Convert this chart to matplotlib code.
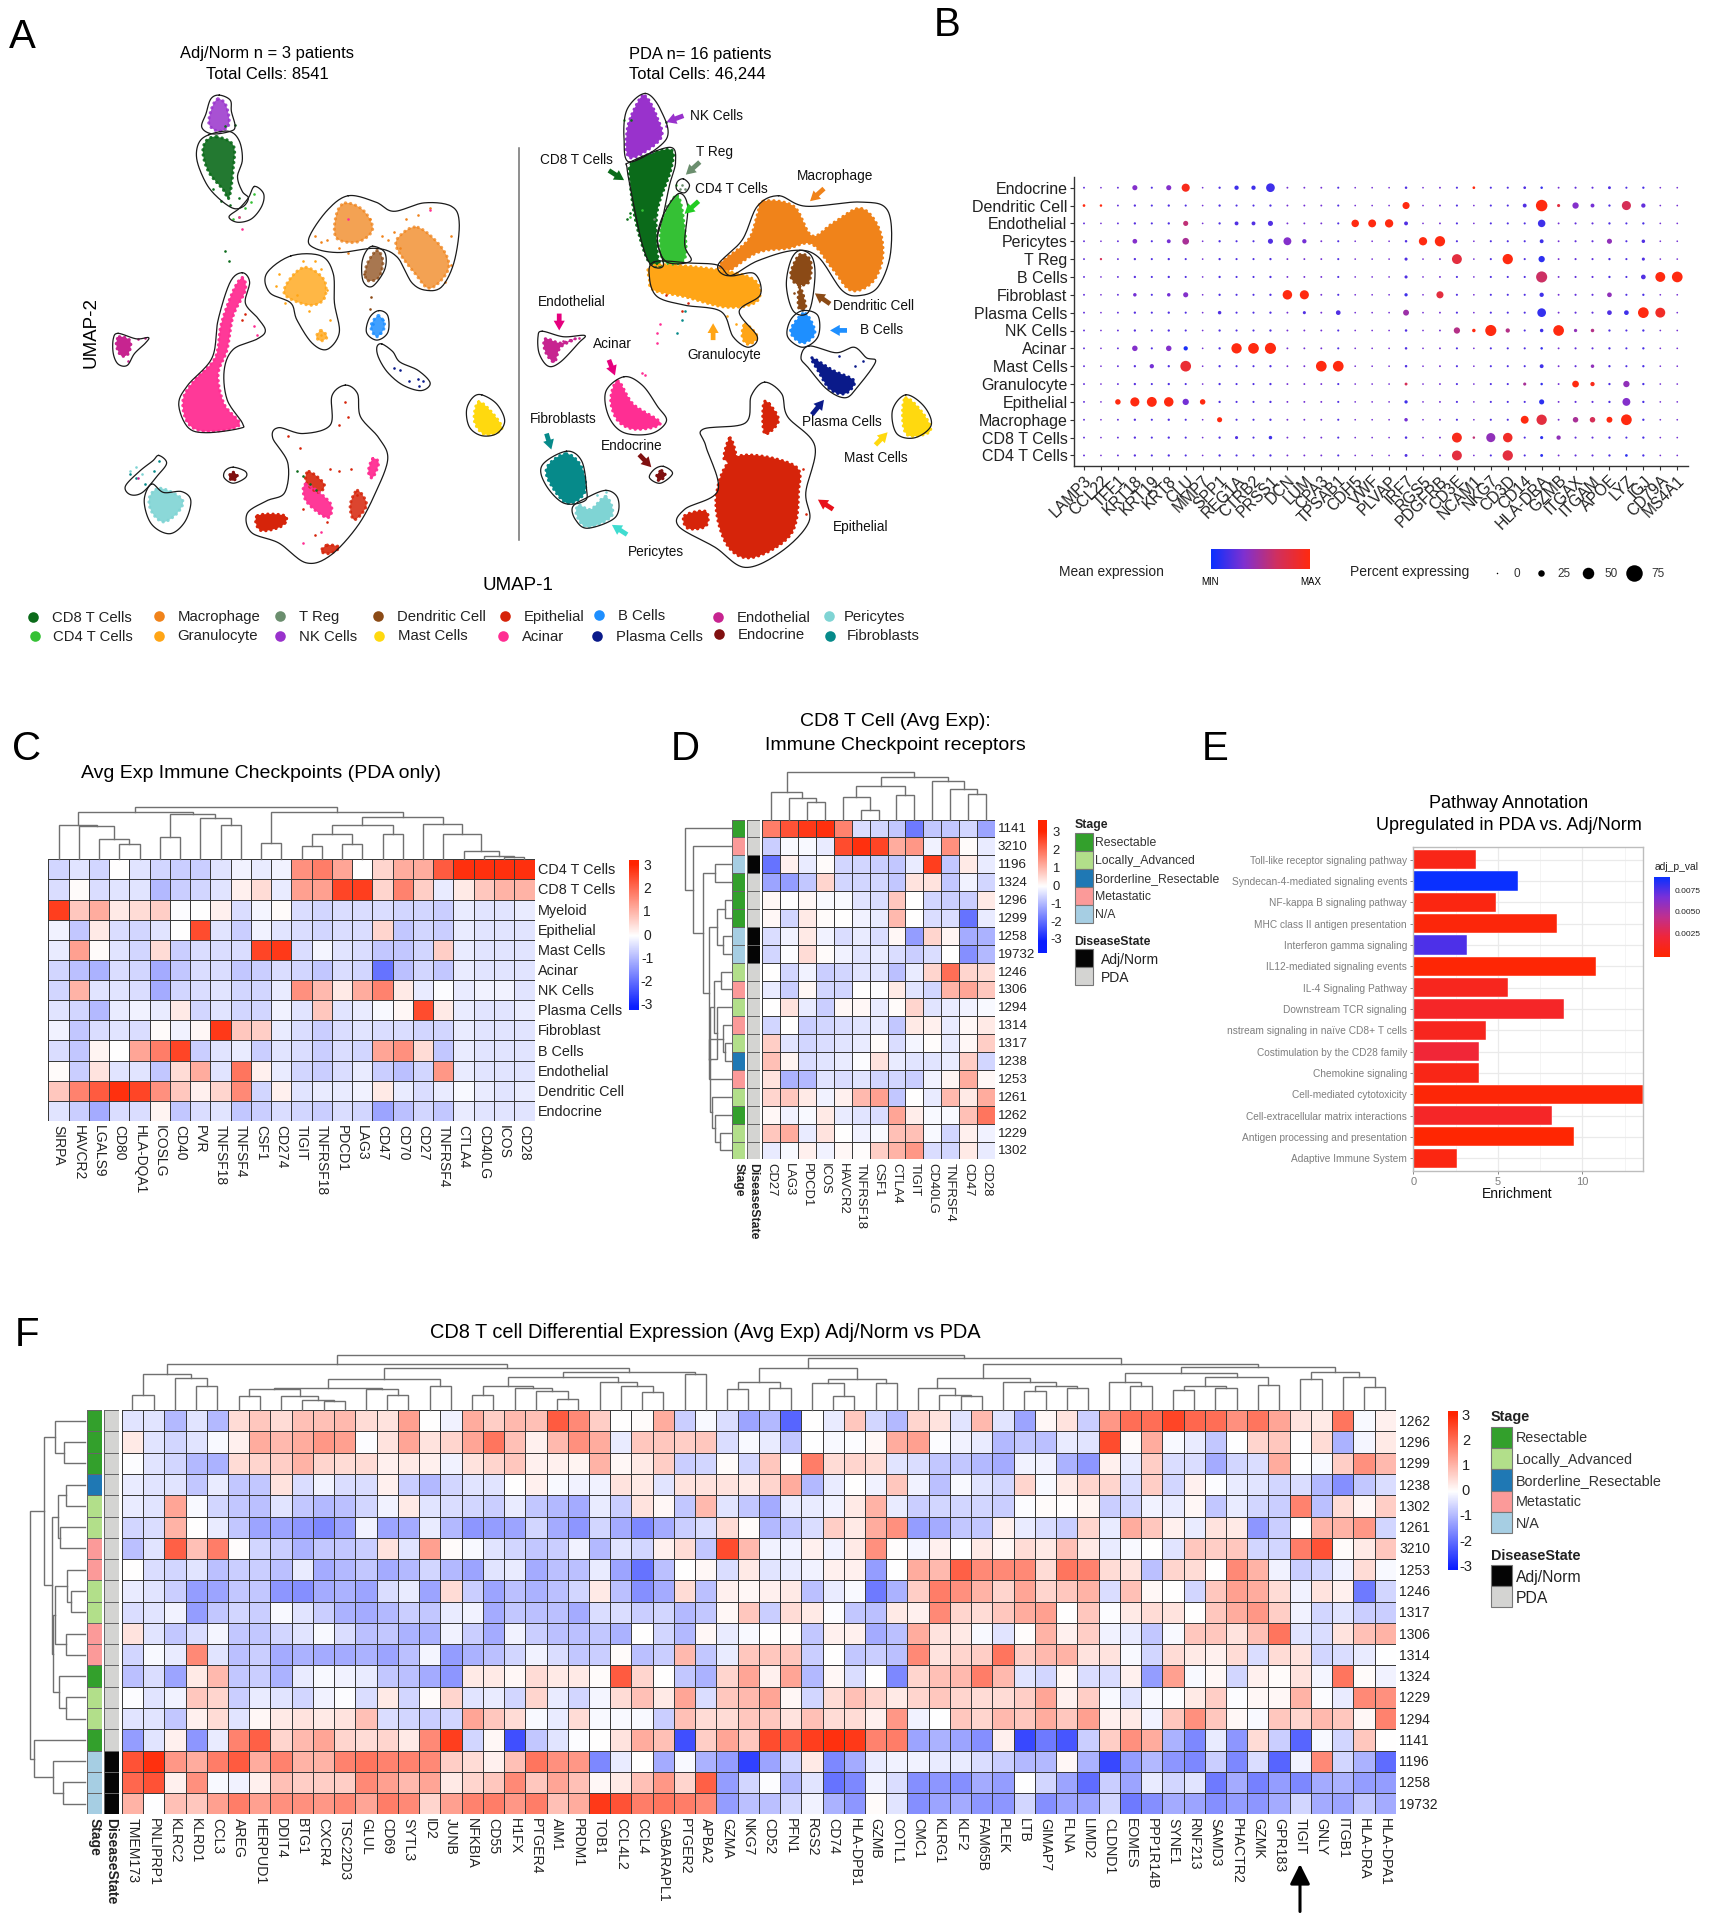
import numpy as np
import matplotlib
matplotlib.use('Agg')
import matplotlib.pyplot as plt
from matplotlib.colors import LinearSegmentedColormap, ListedColormap, Normalize
from matplotlib.patches import Polygon, Rectangle, FancyArrowPatch

plt.rcParams['font.family'] = ['Liberation Sans', 'DejaVu Sans']
W, H = 1709, 1920
fig = plt.figure(figsize=(17.09, 19.2), dpi=100)

def axpx(x0, y0, x1, y1):
    return fig.add_axes([x0 / W, 1 - y1 / H, (x1 - x0) / W, (y1 - y0) / H])

ov = axpx(0, 0, W, H)
ov.set_xlim(0, W); ov.set_ylim(H, 0); ov.axis('off'); ov.set_zorder(5); ov.patch.set_alpha(0)

# ---------- colours ----------
HM = LinearSegmentedColormap.from_list('hm', ['#0A1EFF', '#FFFFFF', '#FF2400'])
DOT = LinearSegmentedColormap.from_list('dot', ['#0A30FF', '#8030D0', '#D0305F', '#FF2A10'])
STAGE = ['#33A02C', '#B2DF8A', '#1F78B4', '#FB9A99', '#A6CEE3']
STAGE_NAMES = ['Resectable', 'Locally_Advanced', 'Borderline_Resectable', 'Metastatic', 'N/A']
DS_COL = ['#050505', '#D4D4D2']
DS_NAMES = ['Adj/Norm', 'PDA']
CL = dict(cd8='#0B6B1A', cd4='#35C135', mac='#F0831A', gran='#FFA516', treg='#6B8E6E', nk='#9932CC',
          dc='#8B4A16', mast='#FFD90F', epi='#D6240A', aci='#FF2E93', b='#1E8FFF', pla='#0A1A8A',
          endo='#C72490', ecr='#801010', per='#7FD4D4', fib='#068A8A')

# ---------- panel A data (UMAP position readings) ----------
outlines_left = [
 [(362,226),(380,238),(382,265),(388,300),(380,312),(350,318),(333,302),(340,270),(348,235)],
 [(345,320),(378,312),(395,335),(400,380),(392,420),(400,455),(410,470),(402,490),(385,495),(360,470),(340,435),(325,380),(328,340)],
 [(420,443),(435,460),(432,490),(415,520),(392,528),(378,515),(395,495),(410,470)],
 [(575,465),(620,480),(650,502),(700,482),(745,490),(758,530),(750,620),(730,680),(705,690),(680,672),(655,610),(620,590),(560,600),(520,590),(510,565),(540,500)],
 [(480,608),(530,608),(550,650),(552,720),(560,790),(540,830),(515,815),(490,760),(480,720),(445,695),(440,650)],
 [(615,585),(635,600),(635,640),(615,680),(600,670),(597,630),(603,600)],
 [(625,738),(640,750),(640,790),(622,808),(605,790),(610,755)],
 [(630,817),(648,835),(660,860),(690,880),(710,910),(695,928),(665,915),(640,885),(625,850),(622,825)],
 [(195,792),(225,805),(245,802),(240,815),(222,840),(210,868),(195,865),(187,840),(187,805)],
 [(400,648),(412,670),(405,720),(425,755),(438,785),(425,805),(385,830),(370,880),(375,950),(400,1005),(395,1018),(340,1028),(310,1015),(295,960),(310,915),(350,850),(360,760),(380,670)],
 [(795,938),(820,960),(833,1000),(820,1030),(795,1035),(775,1015),(770,975),(780,945)],
 [(385,1110),(405,1120),(405,1135),(385,1148),(370,1135),(372,1118)],
 [(262,1082),(275,1100),(260,1130),(235,1170),(215,1175),(207,1155),(230,1120),(252,1095)],
 [(250,1150),(270,1170),(300,1168),(315,1190),(305,1240),(280,1268),(250,1245),(238,1190)],
 [(570,915),(590,935),(595,990),(625,1040),(640,1090),(620,1170),(590,1250),(545,1320),(505,1337),(460,1290),(415,1265),(408,1220),(440,1190),(470,1170),(475,1100),(450,1040),(460,1016),(500,1030),(545,1010),(548,940)],
]
outlines_right = [
 [(1065,222),(1090,260),(1100,330),(1040,385),(1030,330),(1035,260)],
 [(1040,385),(1105,350),(1115,385),(1105,440),(1095,510),(1085,570),(1095,630),(1075,630),(1060,580),(1045,480),(1035,400)],
 [(1128,425),(1138,440),(1130,458),(1117,450),(1118,432)],
 [(1120,460),(1135,490),(1130,580),(1140,620),(1100,622),(1085,570),(1095,510)],
 [(1285,465),(1330,490),(1420,480),(1465,500),(1470,600),(1450,680),(1420,702),(1390,690),(1350,610),(1310,595),(1250,620),(1205,655),(1185,630),(1225,570),(1250,490)],
 [(1080,622),(1140,625),(1185,630),(1205,655),(1245,650),(1255,700),(1220,740),(1250,800),(1235,825),(1210,800),(1190,740),(1130,725),(1085,705),(1072,660)],
 [(1320,595),(1340,610),(1345,660),(1335,740),(1310,740),(1298,680),(1305,620)],
 [(1325,738),(1350,750),(1350,800),(1325,825),(1300,800),(1305,760)],
 [(1335,822),(1380,838),(1410,825),(1430,850),(1445,860),(1415,920),(1395,945),(1365,925),(1335,875),(1322,850)],
 [(895,787),(930,800),(965,797),(955,815),(925,860),(905,870),(890,840),(888,800)],
 [(1030,895),(1060,915),(1085,965),(1100,1000),(1075,1030),(1030,1028),(1005,990),(1000,930)],
 [(935,1072),(960,1095),(968,1160),(965,1190),(930,1195),(900,1150),(895,1105)],
 [(1000,1165),(1020,1185),(1015,1230),(970,1255),(950,1235),(945,1205),(965,1185)],
 [(1095,1108),(1110,1125),(1090,1148),(1072,1135),(1080,1115)],
 [(1495,938),(1525,965),(1537,1010),(1510,1040),(1480,1030),(1473,975)],
 [(1262,908),(1290,935),(1300,990),(1345,1060),(1330,1170),(1335,1240),(1290,1310),(1230,1348),(1180,1300),(1120,1250),(1130,1210),(1185,1165),(1165,1060),(1160,1020),(1230,1005),(1240,940)],
]
blobs = [
 ('nk',[(360,235),(373,250),(378,295),(362,312),(345,295),(350,255)],.85),
 ('cd8',[(358,325),(385,345),(385,400),(378,470),(368,450),(345,410),(335,365),(340,335)],.9),
 ('mac',[(570,482),(600,500),(615,545),(590,575),(555,565),(555,510)],.75),
 ('mac',[(690,540),(730,590),(740,640),(710,685),(685,650),(655,590),(660,560)],.75),
 ('gran',[(505,635),(535,665),(535,710),(510,725),(470,700),(480,660)],.8),
 ('gran',[(530,785),(540,800),(530,810),(522,800)],.8),
 ('dc',[(622,595),(632,620),(625,660),(605,665),(605,630)],.75),
 ('b',[(625,750),(635,775),(622,800),(612,775)],.85),
 ('aci',[(400,660),(405,690),(385,750),(375,830),(360,890),(370,960),(395,1010),(340,1025),(310,1005),(302,950),(320,905),(355,850),(365,770),(385,690)],.95),
 ('mast',[(790,955),(815,985),(828,1020),(800,1032),(783,1000)],1),
 ('ecr',[(385,1122),(392,1132),(384,1142),(378,1132)],1),
 ('endo',[(197,800),(215,810),(212,840),(200,845),(192,820)],1),
 ('per',[(265,1160),(300,1185),(295,1215),(270,1240),(250,1215),(247,1180)],.9),
 ('epi',[(425,1225),(470,1225),(465,1250),(430,1260)],1),
 ('epi',[(590,1165),(605,1200),(585,1235),(578,1200)],.85),
 ('epi',[(540,1295),(560,1300),(545,1315),(530,1310)],.9),
 ('epi',[(510,1120),(535,1150),(525,1170),(505,1145)],.9),
 ('aci',[(505,1150),(545,1195),(540,1230),(505,1190)],.95),
 ('aci',[(615,1090),(625,1100),(615,1135),(608,1120)],.95),
 ('nk',[(1065,228),(1085,280),(1090,330),(1040,375),(1035,310),(1050,250)],1),
 ('cd8',[(1045,385),(1105,355),(1108,400),(1085,500),(1085,600),(1090,632),(1070,620),(1050,530),(1040,430)],1),
 ('cd4',[(1118,465),(1128,520),(1130,615),(1095,620),(1090,550),(1100,500)],1),
 ('mac',[(1260,478),(1310,490),(1340,560),(1375,530),(1420,495),(1450,540),(1457,610),(1440,670),(1405,690),(1375,640),(1340,580),(1300,590),(1250,600),(1200,645),(1190,625),(1235,570),(1250,510)],1),
 ('gran',[(1080,630),(1180,640),(1245,665),(1250,715),(1200,730),(1130,705),(1080,690),(1072,665)],1),
 ('gran',[(1230,770),(1250,800),(1235,818),(1225,800)],1),
 ('dc',[(1320,605),(1338,620),(1335,670),(1315,675),(1305,650)],1),
 ('dc',[(1320,680),(1330,730),(1318,730)],1),
 ('b',[(1330,745),(1345,790),(1325,815),(1305,790),(1315,760)],1),
 ('pla',[(1340,850),(1375,880),(1410,905),(1395,935),(1370,925),(1350,880)],1),
 ('endo',[(900,805),(925,815),(950,805),(925,825),(915,860),(900,835)],1),
 ('aci',[(1020,905),(1045,960),(1090,1005),(1050,1020),(1020,1000),(1008,950)],1),
 ('fib',[(935,1078),(960,1110),(965,1170),(935,1195),(905,1140),(905,1105)],1),
 ('per',[(1000,1180),(1010,1225),(970,1252),(952,1225),(955,1200),(975,1210)],1),
 ('ecr',[(1092,1118),(1098,1130),(1088,1142),(1084,1130)],1),
 ('mast',[(1495,945),(1525,985),(1535,1025),(1500,1035),(1490,1000)],1),
 ('epi',[(1270,960),(1285,1000),(1262,1030),(1260,960)],1),
 ('epi',[(1215,1085),(1310,1105),(1318,1170),(1305,1270),(1240,1325),(1198,1290),(1182,1180)],1),
 ('epi',[(1130,1225),(1165,1215),(1165,1250),(1135,1255)],1),
 ('epi',[(1205,1040),(1215,1090),(1195,1090)],1),
]
specks = {
 'cd8':[(372,300),(388,298),(395,470),(380,488),(365,478),(352,450),(372,597),(378,620),(1035,520),(1040,505),(1048,495),(1042,285),(1100,290),(490,1118),(500,1130),(512,1150),(522,1165)],
 'cd4':[(420,460),(415,480),(405,495),(395,515),(385,520),(1060,500),(1040,515),(1115,440),(1030,285)],
 'treg':[(1125,440),(1122,450),(1130,448),(1110,470),(1100,490),(1080,520)],
 'mac':[(540,570),(530,575),(610,520),(630,560),(650,550),(670,520),(690,510),(710,495),(660,590),(640,570),(520,560),(560,590),(575,600),(745,560),(745,630),(735,670)],
 'gran':[(455,680),(460,650),(500,620),(520,620),(530,640),(490,700),(540,690),(470,720),(510,740),(530,795),(545,760),(1200,750),(1215,770),(1190,645)],
 'dc':[(610,735),(612,705),(600,650),(1320,715),(1325,700),(1310,695)],
 'b':[(615,770),(632,760),(628,790)],
 'pla':[(650,875),(660,880),(690,900),(698,905),(692,918),(675,905),(1385,845),(1425,858),(1412,870)],
 'epi':[(570,955),(575,990),(560,1010),(495,1065),(475,1035),(545,1115),(560,1120),(580,1115),(520,1270),(470,1240),(500,1210),(540,1240),(590,1175),(405,745),(400,760),(1135,720),(1125,740),(1100,700),(1290,1150),(1330,1220),(1325,1115)],
 'aci':[(400,545),(395,515),(425,795),(420,775),(575,520),(710,500),(500,1290),(530,1265),(1090,770),(1085,790),(1085,815),(1060,885),(1065,890)],
 'fib':[(262,1095),(255,1120),(240,1150),(225,1135),(215,1125),(1130,740),(1125,760),(1118,790)],
 'per':[(225,1110),(215,1120),(235,1125),(1000,1170),(985,1175)],
 'endo':[(228,805),(240,803),(212,858),(228,1135),(930,810),(955,802),(912,858)],
 'nk':[(1100,300),(1075,360)],
}
arrows = [
 (1128,275,1100,290,'#9932CC'),(1005,405,1030,428,CL['cd8']),(1155,385,1132,415,CL['treg']),
 (1153,478,1130,508,'#22CC22'),(1360,448,1337,478,CL['mac']),(1370,722,1345,697,CL['dc']),
 (1398,785,1370,785,CL['b']),(1177,808,1177,768,CL['gran']),(923,745,923,785,'#E6007E'),
 (1005,855,1015,892,'#E6007E'),(1340,985,1360,950,CL['pla']),(1445,1057,1465,1027,CL['mast']),
 (902,1030,910,1068,CL['fib']),(1055,1080,1075,1110,CL['ecr']),(1035,1270,1010,1247,'#40DCD0'),
 (1375,1210,1350,1187,'#E8101A'),
]
arrow_labels = [('NK Cells',1183,275),('CD8 T Cells',952,380),('T Reg',1180,360),('CD4 T Cells',1207,450),
 ('Macrophage',1378,417),('Dendritic Cell',1441,728),('B Cells',1455,783),('Granulocyte',1196,843),
 ('Endothelial',943,718),('Acinar',1010,818),('Plasma Cells',1390,1002),('Mast Cells',1445,1087),
 ('Fibroblasts',930,995),('Endocrine',1043,1060),('Pericytes',1082,1311),('Epithelial',1421,1253)]
legend_a = [('CD8 T Cells','cd8',55,1466,86),('CD4 T Cells','cd4',57,1512,88),('Macrophage','mac',262,1463,293),
 ('Granulocyte','gran',262,1510,292),('T Reg','treg',462,1463,493),('NK Cells','nk',462,1511,493),
 ('Dendritic Cell','dc',624,1464,655),('Mast Cells','mast',626,1510,657),('Epithelial','epi',833,1464,865),
 ('Acinar','aci',831,1511,862),('B Cells','b',989,1462,1020),('Plasma Cells','pla',985,1512,1016),
 ('Endothelial','endo',1185,1466,1216),('Endocrine','ecr',1186,1507,1217),('Pericytes','per',1368,1463,1393),
 ('Fibroblasts','fib',1370,1510,1397)]

def smooth(pts, n=14):
    p = np.array(pts, float); m = len(p); out = []
    for i in range(m):
        p0, p1, p2, p3 = p[i - 1], p[i], p[(i + 1) % m], p[(i + 2) % m]
        for t in np.linspace(0, 1, n, endpoint=False):
            out.append(0.5 * (2 * p1 + (p2 - p0) * t + (2 * p0 - 5 * p1 + 4 * p2 - p3) * t * t + (3 * p1 - p0 - 3 * p2 + p3) * t ** 3))
    return np.array(out)

axA = axpx(0, 0, 950, 660)
axA.set_xlim(0, 1568); axA.set_ylim(1568, 0); axA.axis('off')
for key, pts, al in blobs:
    poly = smooth(pts)
    axA.add_patch(Polygon(poly, closed=True, fc=CL[key], ec='none', alpha=al, zorder=2))
    closed = np.vstack([poly, poly[0]])
    axA.plot(closed[:, 0], closed[:, 1], color=CL[key], lw=2.2, ls=(0, (0.1, 1.6)),
             dash_capstyle='round', zorder=2.5, alpha=al)
for key, pts in specks.items():
    a = np.array(pts)
    axA.scatter(a[:, 0], a[:, 1], s=3.5, c=CL[key], lw=0, zorder=3)
for o in outlines_left + outlines_right:
    s = smooth(o); s = np.vstack([s, s[0]])
    axA.plot(s[:, 0], s[:, 1], color='#1a1a1a', lw=0.9, zorder=4)
axA.plot([856, 856], [352, 1284], color='#707070', lw=1.1)
for x0, y0, x1, y1, c in arrows:
    axA.add_patch(FancyArrowPatch((x0, y0), (x1, y1), arrowstyle='simple,head_width=8,head_length=7,tail_width=3.4',
                                  color=c, lw=0, zorder=6, shrinkA=0, shrinkB=0))
for t, x, y in arrow_labels:
    axA.text(x, y, t, ha='center', va='center', fontsize=9.8, color='#111')
axA.text(441, 128, 'Adj/Norm n = 3 patients', ha='center', va='center', fontsize=11.9)
axA.text(441, 176, 'Total Cells: 8541', ha='center', va='center', fontsize=11.9)
axA.text(1155, 130, 'PDA n= 16 patients', ha='center', va='center', fontsize=11.9)
axA.text(1151, 177, 'Total Cells: 46,244', ha='center', va='center', fontsize=11.9)
axA.text(855, 1390, 'UMAP-1', ha='center', va='center', fontsize=13.5)
axA.text(150, 790, 'UMAP-2', ha='center', va='center', fontsize=13.5, rotation=90)
for t, k, dx, dy, tx in legend_a:
    axA.scatter([dx], [dy], s=58, c=CL[k], lw=0)
    axA.text(tx, dy + 2, t, ha='left', va='center', fontsize=10.7, color='#222')

# ---------- panel B ----------
b_rows = ['Endocrine','Dendritic Cell','Endothelial','Pericytes','T Reg','B Cells','Fibroblast','Plasma Cells','NK Cells',
          'Acinar','Mast Cells','Granulocyte','Epithelial','Macrophage','CD8 T Cells','CD4 T Cells']
b_genes = ['LAMP3','CCL22','TFF1','KRT18','KRT19','KRT8','CLU','MMP7','SPP1','REG1A','CTRB2','PRSS1','DCN','LUM','CPA3','TPSAB1',
           'CDH5','VWF','PLVAP','IRF7','RGS5','PDGFRB','CD3E','NCAM1','NKG7','CD3D','CD14','HLA-DRA','GZMB','ITGAX','ITGAM','APOE','LYZ','IGJ','CD79A','MS4A1']
b_bg_pct = [2,1,2,4,3,4,3,1,4,3,3,4,2,2,2,3,1,1,1,5,1,2,3,1,3,3,3,5,2,3,3,4,3,4,1,1]
b_bg_expr = [.25,.3,.25,.22,.2,.2,.2,.3,.2,.2,.2,.2,.3,.3,.3,.2,.3,.3,.3,.2,.3,.3,.2,.3,.2,.2,.2,.12,.3,.25,.25,.2,.2,.18,.3,.3]
b_dots = [
 ('Endocrine','KRT18',18,.35),('Endocrine','KRT8',18,.35),('Endocrine','CLU',33,.95),('Endocrine','REG1A',14,.15),('Endocrine','CTRB2',14,.15),('Endocrine','PRSS1',36,.15),('Endocrine','NCAM1',6,1.0),('Endocrine','CD14',6,.2),('Endocrine','APOE',7,.2),
 ('Dendritic Cell','LAMP3',6,1),('Dendritic Cell','CCL22',5,1),('Dendritic Cell','IRF7',28,1),('Dendritic Cell','CD14',12,.2),('Dendritic Cell','HLA-DRA',50,1),('Dendritic Cell','GZMB',8,.8),('Dendritic Cell','ITGAX',24,.35),('Dendritic Cell','ITGAM',12,.3),('Dendritic Cell','LYZ',38,.7),('Dendritic Cell','IGJ',14,.25),
 ('Endothelial','CLU',18,.6),('Endothelial','REG1A',12,.2),('Endothelial','CTRB2',12,.2),('Endothelial','PRSS1',18,.2),('Endothelial','CDH5',30,1),('Endothelial','VWF',32,1),('Endothelial','PLVAP',34,1),('Endothelial','IRF7',12,.2),('Endothelial','HLA-DRA',30,.15),
 ('Pericytes','KRT18',16,.35),('Pericytes','KRT8',12,.3),('Pericytes','CLU',26,.5),('Pericytes','PRSS1',18,.2),('Pericytes','DCN',32,.35),('Pericytes','LUM',14,.3),('Pericytes','RGS5',34,1),('Pericytes','PDGFRB',44,1),('Pericytes','HLA-DRA',12,.15),('Pericytes','APOE',18,.4),('Pericytes','IGJ',10,.2),
 ('T Reg','CCL22',4,.7),('T Reg','CD3E',42,.8),('T Reg','CD3D',44,1),('T Reg','HLA-DRA',24,.1),('T Reg','IRF7',8,.2),('T Reg','IGJ',8,.2),
 ('B Cells','HLA-DRA',48,.65),('B Cells','IGJ',16,.2),('B Cells','CD79A',42,1),('B Cells','MS4A1',46,1),('B Cells','IRF7',8,.2),
 ('Fibroblast','DCN',40,1),('Fibroblast','LUM',38,1),('Fibroblast','PDGFRB',28,.8),('Fibroblast','CLU',18,.35),('Fibroblast','KRT18',10,.3),('Fibroblast','KRT8',10,.3),('Fibroblast','HLA-DRA',14,.15),('Fibroblast','APOE',16,.4),('Fibroblast','IRF7',9,.15),
 ('Plasma Cells','IRF7',22,.45),('Plasma Cells','SPP1',10,.2),('Plasma Cells','TPSAB1',16,.2),('Plasma Cells','LUM',8,.2),('Plasma Cells','HLA-DRA',36,.12),('Plasma Cells','APOE',16,.2),('Plasma Cells','LYZ',16,.15),('Plasma Cells','IGJ',46,1),('Plasma Cells','CD79A',42,.9),
 ('NK Cells','CD3E',24,.55),('NK Cells','NCAM1',10,1),('NK Cells','NKG7',48,1),('NK Cells','CD3D',14,.55),('NK Cells','GZMB',46,1),('NK Cells','HLA-DRA',10,.15),('NK Cells','ITGAX',9,.4),('NK Cells','ITGAM',10,.55),
 ('Acinar','KRT18',20,.35),('Acinar','KRT8',20,.35),('Acinar','CLU',14,.05),('Acinar','REG1A',44,1),('Acinar','CTRB2',46,1),('Acinar','PRSS1',48,1),
 ('Mast Cells','KRT19',14,.3),('Mast Cells','CLU',46,.85),('Mast Cells','CPA3',46,1),('Mast Cells','TPSAB1',46,1),('Mast Cells','HLA-DRA',12,.15),('Mast Cells','ITGAM',10,.4),
 ('Granulocyte','ITGAX',26,1),('Granulocyte','ITGAM',14,.95),('Granulocyte','LYZ',24,.4),('Granulocyte','CD14',8,.5),('Granulocyte','IRF7',7,.7),
 ('Epithelial','TFF1',20,1),('Epithelial','KRT18',38,1),('Epithelial','KRT19',42,1),('Epithelial','KRT8',40,1),('Epithelial','CLU',24,.3),('Epithelial','MMP7',20,1),('Epithelial','HLA-DRA',18,.1),('Epithelial','LYZ',32,.35),('Epithelial','IRF7',9,.15),
 ('Macrophage','SPP1',18,1),('Macrophage','CD14',32,1),('Macrophage','HLA-DRA',44,.8),('Macrophage','ITGAX',20,.5),('Macrophage','ITGAM',20,.7),('Macrophage','APOE',22,1),('Macrophage','LYZ',46,1),('Macrophage','IRF7',10,.3),
 ('CD8 T Cells','CD3E',42,.95),('CD8 T Cells','NCAM1',5,.6),('CD8 T Cells','NKG7',38,.4),('CD8 T Cells','CD3D',40,.9),('CD8 T Cells','GZMB',14,.4),('CD8 T Cells','HLA-DRA',8,.1),('CD8 T Cells','PRSS1',10,.15),('CD8 T Cells','REG1A',8,.2),
 ('CD4 T Cells','CD3E',42,.8),('CD4 T Cells','CD3D',44,.8),('CD4 T Cells','HLA-DRA',7,.1),('CD4 T Cells','IRF7',7,.2),('CD4 T Cells','LYZ',6,.1),
]
def dot_area(p):
    return ((1.5 + 0.2 * np.asarray(p, float)) * 0.72) ** 2
pct = np.tile(np.array(b_bg_pct, float), (16, 1)); ex = np.tile(np.array(b_bg_expr, float), (16, 1))
for r, g, p, e in b_dots:
    pct[b_rows.index(r), b_genes.index(g)] = p; ex[b_rows.index(r), b_genes.index(g)] = e
axB = axpx(1074.4, 177, 1688, 466)
axB.set_xlim((1074.4 - 1084) / 16.95, (1688 - 1084) / 16.95)
axB.set_ylim((466 - 187.7) / 17.85, (177 - 187.7) / 17.85)
xx, yy = np.meshgrid(np.arange(36), np.arange(16))
axB.scatter(xx.ravel(), yy.ravel(), s=dot_area(pct.ravel()), c=ex.ravel(), cmap=DOT, vmin=0, vmax=1, lw=0, zorder=3)
axB.spines[['top', 'right']].set_visible(False)
for s in ['left', 'bottom']:
    axB.spines[s].set_color('#333'); axB.spines[s].set_linewidth(1)
axB.set_xticks(range(36)); axB.set_xticklabels(b_genes, rotation=45, ha='right', va='top', rotation_mode='anchor', fontsize=11.3, color='#222')
axB.set_yticks(range(16)); axB.set_yticklabels(b_rows, fontsize=11.5, color='#222')
axB.tick_params(length=3, width=0.8, pad=2, color='#333')
gb = axpx(1211, 549, 1309.6, 569)
gb.imshow(np.linspace(0, 1, 200)[None, :], aspect='auto', cmap=DOT); gb.axis('off')
ov.text(1059, 572, 'Mean expression', fontsize=9.9, va='center', color='#222')
ov.text(1210, 582, 'MIN', fontsize=7, ha='center', va='center')
ov.text(1311, 582, 'MAX', fontsize=7, ha='center', va='center')
ov.text(1350, 572, 'Percent expressing', fontsize=10, va='center', color='#222')
b_size_vals = [0, 25, 50, 75]
for i, v in enumerate(b_size_vals):
    x = [1496.5, 1541, 1587.5, 1634][i]
    ov.scatter([x], [573], s=dot_area(v), c='k', lw=0)
    ov.text([1517, 1564, 1610.7, 1657.6][i], 574, str(v), fontsize=8.5, ha='center', va='center', color='#333')

# ---------- heat map helpers ----------
def heat(box, mat, vlim=3.2):
    ax = axpx(*box)
    ax.pcolormesh(np.array(mat, float), cmap=HM, vmin=-vlim, vmax=vlim, edgecolors='#3a3a3a', linewidth=0.7)
    ax.set_ylim(len(mat), 0); ax.axis('off')
    return ax

def annot(box, idx, cols):
    ax = axpx(*box)
    ax.pcolormesh(np.array(idx)[:, None], cmap=ListedColormap(cols), vmin=0, vmax=len(cols), edgecolors='#666666', linewidth=0.6)
    ax.set_ylim(len(idx), 0); ax.axis('off')

def colorbar(box, lo, hi, ticks_x, fs=10):
    ax = axpx(*box)
    vals = np.linspace(hi, lo, 200)[:, None]
    ax.imshow(vals, aspect='auto', cmap=HM, vmin=-3.1, vmax=3.1, extent=[0, 1, lo, hi]); ax.axis('off')
    y0, y1 = box[1], box[3]
    for v in range(-3, 4):
        ov.text(ticks_x, y0 + (hi - v) / (hi - lo) * (y1 - y0), str(v), fontsize=fs, ha='center', va='center', color='#222')

def dendro(tree, leafpos, h2px, base, orient, lw=1.0, col='#707070'):
    def rec(n):
        if not isinstance(n, tuple):
            return leafpos(n), base
        top, l, r = n
        c1, b1 = rec(l); c2, b2 = rec(r); t = h2px(top)
        xs, ys = [c1, c1, c2, c2], [b1, t, t, b2]
        if orient == 'top':
            ov.plot(xs, ys, color=col, lw=lw, solid_joinstyle='miter')
        else:
            ov.plot(ys, xs, color=col, lw=lw, solid_joinstyle='miter')
        return (c1 + c2) / 2, t
    rec(tree)

def legends(x, y_stage_t, sw_x1, y0, step, lab_x, fs, y_ds_t, y1, dstep, lab_ds_x, fs_ds, tfs):
    ov.text(x, y_stage_t, 'Stage', fontweight='bold', fontsize=tfs, va='center', color='#222')
    for i, (c, n) in enumerate(zip(STAGE, STAGE_NAMES)):
        ov.add_patch(Rectangle((x, y0 + i * step), sw_x1 - x, step, fc=c, ec='#777', lw=0.8))
        ov.text(lab_x, y0 + (i + .5) * step + 1, n, fontsize=fs, va='center', color='#333')
    ov.text(x, y_ds_t, 'DiseaseState', fontweight='bold', fontsize=tfs, va='center', color='#222')
    for i, (c, n) in enumerate(zip(DS_COL, DS_NAMES)):
        ov.add_patch(Rectangle((x, y1 + i * dstep), sw_x1 - x, dstep, fc=c, ec='#777', lw=0.8))
        ov.text(lab_ds_x, y1 + (i + .5) * dstep + 2, n, fontsize=fs_ds, va='center', color='#222')

# ---------- panel C ----------
c_cols = ['SIRPA','HAVCR2','LGALS9','CD80','HLA-DQA1','ICOSLG','CD40','PVR','TNFSF18','TNFSF4','CSF1','CD274','TIGIT','TNFRSF18','PDCD1','LAG3','CD47','CD70','CD27','TNFRSF4','CTLA4','CD40LG','ICOS','CD28']
c_rows = ['CD4 T Cells','CD8 T Cells','Myeloid','Epithelial','Mast Cells','Acinar','NK Cells','Plasma Cells','Fibroblast','B Cells','Endothelial','Dendritic Cell','Endocrine']
c_vals = [
 [-.6,-.4,-.6,0,-.4,-.6,-.7,-.7,-.4,-.2,-.3,-.2,1.6,1.9,1.3,0,.6,1.2,1.2,2.4,3,3,3,3],
 [-.5,.05,-.5,-.4,-.4,-1,-.7,-.6,-.4,.2,.5,-.3,1.4,1.4,2.7,2.8,.6,1.8,.7,-.3,.3,.8,1.1,1.1],
 [2.8,.8,1.2,.3,.5,.7,-.05,0,.2,-.5,-.15,.05,-.5,-.6,-.5,-.5,-.5,-.6,-.6,-.7,-.3,-.4,-.4,-.3],
 [-.2,-.8,.3,-.5,-.6,-.4,0,2.6,-.4,-.7,-.2,-.4,-.5,-.6,-.5,-.5,.6,-.8,-.6,-.7,-.3,-.4,-.4,-.4],
 [-.3,1.4,.05,-.4,-.6,.5,-.7,-.5,-.5,-.5,2.7,2.9,-.5,-.15,-.4,-.5,-.8,-.8,-.6,.7,-.3,-.4,-.4,-.4],
 [-.6,-.9,-1.1,-.5,-.6,-1.2,-.8,-.5,-.5,-.8,-.7,-.5,-.6,-.8,-.5,-.6,-2,-.9,-.6,-.8,-.3,-.4,-.4,-.4],
 [-.6,1.1,-.4,-.4,-.5,-1.2,-.6,-.5,-.4,-.6,-.6,-.3,1.6,1,.3,1.2,1.8,.3,-.3,-.05,-.3,-.2,-.2,-.4],
 [-.4,-.6,-1,-.3,-.2,-.3,.3,-.6,-.4,-.6,-.6,-.2,-.4,.8,-.4,-.3,-.1,.1,2.6,.3,-.3,-.4,-.4,-.3],
 [-.2,-.8,-.5,-.4,-.5,.05,-.2,.1,2.9,.8,.7,-.3,-.5,-.7,-.5,-.4,-.5,-.5,-.6,-.6,-.3,-.4,-.4,-.4],
 [-.5,-.8,.15,0,1.3,1.9,2.7,-.7,-.4,-.3,-.7,-.4,-.5,-.7,-.5,-.6,1.3,1.6,.5,-.8,-.3,-.4,-.4,-.4],
 [.05,-.7,.4,-.4,-.4,-.8,.5,1.2,-.4,2,.2,-.3,-.6,-.7,-.5,-.3,-.7,-.9,-.6,1.5,-.3,-.4,-.4,-.4],
 [.8,1.8,2.4,3,2.7,1.6,.8,.2,.6,1.7,-.6,.2,-.4,-.3,-.3,-.2,.3,-.3,-.5,-.3,-.1,-.3,-.4,-.3],
 [-.4,-.7,-1.2,-.5,-.5,.15,-.8,-.5,-.4,-.8,-.7,-.5,-.6,-.7,-.5,-.6,-1.3,-.9,-.6,-.8,-.3,-.4,-.4,-.4],
]
c_tree = (260, (277, (316, 0, (318, 1, (358, 2, (372, 3, 4)))), (283, (350, 5, 6), (294, 7, (316, 8, 9)))),
          (275, (370, 10, 11), (290, (316, (342, (377, 12, 13), (372, 14, 15)), (342, 16, 17)),
                                (313, 18, (342, 19, (392, 20, (407, 21, (412, 22, 23))))))))
C = (48.4, 859.3, 534.5, 1121)
heat(C, c_vals)
cw = (C[2] - C[0]) / 24; ch = (C[3] - C[1]) / 13
dendro(c_tree, lambda i: C[0] + cw * (i + .5), lambda h: 720 + h / 3, C[1], 'top')
for i, t in enumerate(c_rows):
    ov.text(537.5, C[1] + ch * (i + .5) + 1, t, fontsize=10.4, va='center', color='#222')
for i, t in enumerate(c_cols):
    ov.text(C[0] + cw * (i + .5), 1125, t, fontsize=10, rotation=270, ha='center', va='top', color='#222')
colorbar((629, 860, 639, 1010), -3.2, 3.26, 647, 10)
ov.text(261, 774, 'Avg Exp Immune Checkpoints (PDA only)', fontsize=14, ha='center', va='center')

# ---------- panel D ----------
d_cols = ['CD27','LAG3','PDCD1','ICOS','HAVCR2','TNFRSF18','CSF1','CTLA4','TIGIT','CD40LG','TNFRSF4','CD47','CD28']
d_rows = ['1141','3210','1196','1324','1296','1299','1258','19732','1246','1306','1294','1314','1317','1238','1253','1261','1262','1229','1302']
d_stage = [0,3,4,0,0,0,4,4,1,3,1,3,1,2,3,1,0,1,1]
d_state = [1,1,0,1,1,1,0,0,1,1,1,1,1,1,1,1,1,1,1]
d_vals = [
 [1.9,2.5,2.9,3,1.8,-.5,-.6,-.8,-1.9,-.8,-.8,-.6,-1.3],
 [-.7,-.1,-.1,-.3,2.6,3,2.7,1.2,1.5,-.2,1.6,.05,-.3],
 [-2,.2,-.3,.05,-.6,-.6,-.7,-.8,-.3,2.8,-.8,.3,-.3],
 [-1.3,-1.4,-.8,.6,-.6,-.6,-.6,-.8,.4,.4,-.8,-.2,-.6],
 [.1,0,.1,-.1,-.1,-.4,-.5,.8,0,-.6,-.7,-.7,.3],
 [.1,-.6,.3,.05,0,-.2,-.3,1,0,-.5,-.5,-2,-.3],
 [-.5,-.2,.3,-.2,-.5,-.3,-.5,.1,-1.4,.6,.15,-1.2,-1.1],
 [-.6,-.05,.5,.05,-.2,-.4,-.3,-.5,-.7,-.5,0,-1.6,-1],
 [0,-.6,-.2,-.7,-.6,-.4,-.4,-.9,-.3,.6,2.1,.6,.5],
 [-.3,-.7,.1,-.6,-.6,0,-.05,.3,-.4,-.6,1.1,1.3,.8],
 [0,.4,-.3,-.7,.1,.1,-.3,.05,.6,-.4,-.3,-.2,-.1],
 [-.6,0,-.7,-.6,-.5,-.4,-.3,-.8,.3,.2,-.3,.1,.3],
 [.7,-.4,-.6,-.5,-.4,-.3,.05,-.5,-.15,.03,-.3,.1,.7],
 [.9,.15,-.5,-.4,-.3,-.05,.4,-.3,-.4,-.4,-.3,.7,-.6],
 [.4,-1.1,-1,-.4,-.5,-.4,-.6,-.6,-.7,-.2,.15,1.2,.1],
 [.6,.8,.3,-.2,.2,1,1.4,-.8,.02,-.3,1,.3,1.2],
 [.1,-.2,-.1,.3,-.3,-.4,-.5,1.3,.25,-.1,-.1,.9,2],
 [.8,1.2,-.3,.4,0,-.2,-.1,.9,.9,-.1,-.6,.2,-.2],
 [-.3,-.1,.2,-.2,.1,.03,.7,1.1,1.5,-.5,-.6,.3,-.3],
]
d_ctree = (180, (238, 0, (255, 1, (268, 2, 3))),
           (195, (222, (253, 4, (290, 5, 6)), (248, 7, 8)), (207, 9, (228, 10, (245, 11, 12)))))
d_rtree = (65, 0, (85, 1, (112, (143, 2, 3),
           (127, (150, (170, 4, 5), (165, 6, 7)),
            (130, (142, (160, 8, 9), (150, 10, (128, (165, 11, (170, 12, 13)), 14))),
             (135, 15, (143, 16, (157, 17, 18))))))))
D = (762.2, 819.5, 994.9, 1159.4)
heat(D, d_vals)
dw = (D[2] - D[0]) / 13; dh = (D[3] - D[1]) / 19
annot((732.3, D[1], 744.6, D[3]), d_stage, STAGE)
annot((747.3, D[1], 759.5, D[3]), d_state, DS_COL)
dendro(d_ctree, lambda i: D[0] + dw * (i + .5), lambda h: 710 + h / 2.904, D[1], 'top')
dendro(d_rtree, lambda i: D[1] + dh * (i + .5), lambda h: 660 + h / 2.613, 730.5, 'left')
for i, t in enumerate(d_rows):
    ov.text(997.5, D[1] + dh * (i + .5) + 1, t, fontsize=9.6, va='center', color='#222')
for i, t in enumerate(d_cols):
    ov.text(D[0] + dw * (i + .5), 1163, t, fontsize=9.4, rotation=270, ha='center', va='top', color='#222')
ov.text(738.5, 1163, 'Stage', fontsize=8.8, fontweight='bold', rotation=270, ha='center', va='top', color='#222')
ov.text(753.5, 1163, 'DiseaseState', fontsize=8.8, fontweight='bold', rotation=270, ha='center', va='top', color='#222')
colorbar((1038, 819.5, 1047, 953.5), -3.73, 3.75, 1056, 9.4)
legends(1074.5, 825, 1092.5, 833, 17.9, 1095.5, 8.8, 941.7, 949.3, 17.75, 1101, 10, 8.8)
ov.text(895, 722, 'CD8 T Cell (Avg Exp):', fontsize=14, ha='center', va='center')
ov.text(895, 746, 'Immune Checkpoint receptors', fontsize=14, ha='center', va='center')

# ---------- panel E ----------
e_terms = ['Toll-like receptor signaling pathway','Syndecan-4-mediated signaling events','NF-kappa B signaling pathway',
 'MHC class II antigen presentation','Interferon gamma signaling','IL12-mediated signaling events','IL-4 Signaling Pathway',
 'Downstream TCR signaling','nstream signaling in naïve CD8+ T cells','Costimulation by the CD28 family','Chemokine signaling',
 'Cell-mediated cytotoxicity','Cell-extracellular matrix interactions','Antigen processing and presentation','Adaptive Immune System']
e_enrich = [3.7,6.2,4.9,8.5,3.2,10.8,5.6,8.9,4.3,3.9,3.9,13.6,8.2,9.5,2.6]
e_pval = [.0009,.0092,.0007,.0004,.0078,.0002,.0012,.0016,.0012,.0022,.0009,.0003,.0016,.0001,.0007]
EC = LinearSegmentedColormap.from_list('e', ['#FF2600', '#F0263A', '#C0308F', '#7A30D8', '#0A30FF'])
axE = axpx(1413.3, 847.3, 1643.3, 1171)
for x in [2.5, 7.5, 12.5]:
    axE.axvline(x, color='#F2F2F2', lw=0.6, zorder=0)
for x in [0, 5, 10]:
    axE.axvline(x, color='#EAEAEA', lw=0.9, zorder=0)
ypos = np.arange(15)
for y in ypos:
    axE.axhline(y, color='#EAEAEA', lw=0.9, zorder=0)
axE.barh(ypos, e_enrich, height=0.9, color=EC(Normalize(0, .0092)(e_pval)), edgecolor='#FFFFFF', lw=0.3, zorder=2)
axE.set_xlim(0, 13.6); axE.set_ylim(14.6, -0.58)
axE.set_yticks(ypos); axE.set_yticklabels(e_terms, fontsize=7.3, color='#7F7F7F')
axE.set_xticks([0, 5, 10]); axE.set_xticklabels(['0', '5', '10'], fontsize=8, color='#7F7F7F')
axE.tick_params(length=2.5, width=0.7, color='#888', pad=2)
for s in axE.spines.values():
    s.set_color('#BDBDBD'); s.set_linewidth(1.0)
ov.text(1517, 1194, 'Enrichment', fontsize=10, ha='center', va='center', color='#111')
ov.text(1509, 803, 'Pathway Annotation', fontsize=13, ha='center', va='center')
ov.text(1509, 825, 'Upregulated in PDA vs. Adj/Norm', fontsize=13, ha='center', va='center')
cbE = axpx(1654.3, 876.7, 1670, 956.7)
cbE.imshow(np.linspace(1, 0, 200)[:, None], aspect='auto', cmap=EC); cbE.axis('off')
ov.text(1677, 867, 'adj_p_val', fontsize=7.4, ha='center', va='center', color='#222')
for lab, y in zip(['0.0075', '0.0050', '0.0025'], [891.3, 912.7, 934]):
    ov.text(1688, y, lab, fontsize=6, ha='center', va='center', color='#222')

# ---------- panel F ----------
f_cols = ['TMEM173','PNLIPRP1','KLRC2','KLRD1','CCL3','AREG','HERPUD1','DDIT4','BTG1','CXCR4','TSC22D3','GLUL','CD69','SYTL3','ID2','JUNB','NFKBIA','CD55','H1FX','PTGER4','AIM1','PRDM1','TOB1','CCL4L2','CCL4','GABARAPL1','PTGER2','APBA2','GZMA','NKG7','CD52','PFN1','RGS2','CD74','HLA-DPB1','GZMB','COTL1','CMC1','KLRG1','KLF2','FAM65B','PLEK','LTB','GIMAP7','FLNA','LIMD2','CLDND1','EOMES','PPP1R14B','SYNE1','RNF213','SAMD3','PHACTR2','GZMK','GPR183','TIGIT','GNLY','ITGB1','HLA-DRA','HLA-DPA1']
f_rows = ['1262','1296','1299','1238','1302','1261','3210','1253','1246','1317','1306','1314','1324','1229','1294','1141','1196','1258','19732']
f_stage = [0,0,0,2,1,1,3,3,1,1,3,3,0,1,1,0,4,4,4]
f_state = [1]*16 + [0,0,0]
f_left = [
 [-.4,-.4,-1,-.4,-1,.5,.8,.5,.9,.9,1,.5,.4,1.4,0,-.2,1.2,.7,1,.9,2.4,1.7,.7,0,.05,1.2,-.7,-.1,-.5,-1.3,-1,-2.2,0,-.3,.8],
 [.3,-.4,-.6,-.4,-.1,.2,1.2,1,1.2,1.5,1.4,-.05,.4,1.3,.4,.6,1.3,2,.9,.2,1,1.6,1.2,-.3,.8,.8,.7,.8,-.5,-.1,-.3,-.8,-.02,-.1,-.05],
 [-.05,-.4,-.6,-1,-1.1,.5,.6,.7,1.1,.6,.5,.5,.2,.3,.2,-.2,.4,.6,.8,.2,.2,.15,1.1,.1,.3,.7,-.7,-.6,.05,-.6,.8,0,1.9,.5,.6],
 [-.3,-.4,-.4,-.8,-.3,-.8,-.8,.4,-.5,-.2,-.5,-.5,.2,-.7,-1,-.6,-.4,-.4,0,.2,-.1,-.2,-.2,.4,.3,-.4,.4,.4,.4,.3,.6,1.2,-1,-.3,0],
 [-.3,-.4,1.3,-.1,-.6,-.8,-.9,-.4,-.8,-1,-.9,-.6,-.2,.3,-.4,-.5,-.6,-.7,-.3,-.8,-1,-1.2,-.3,-.7,.4,.1,-.8,1,-.4,-.8,-1.2,-.3,-.3,-.2,.3],
 [-.6,-.5,1.1,0,-.3,-.8,-1.3,-1.3,-1.5,-1.7,-1.3,-.2,-1.3,-1.2,-.3,-1,-1.5,-1.4,-1.3,-.6,-1.2,-1.5,-.6,-1.2,-1.7,-1.2,-.7,-.5,.5,.05,-1,-.8,-.5,.7,.3],
 [-.9,-.4,2.3,.9,1.9,.03,-.6,-.7,-1.1,-.8,-.8,-.7,.4,-.4,1.4,.05,-.1,-.4,-.6,-.8,-.7,-.2,-1,-.4,-.6,.2,.5,-.8,2.6,1,-.2,-.2,.2,-.2,.3],
 [0,-.5,-.6,-.4,-.9,-.7,-.7,-.9,-.3,-1.2,-1,-.8,-1.2,-1,-.6,-1,-1.3,-.4,-.3,-1.2,-.9,-.9,-.3,-1.3,-2,-.9,0,.1,-.5,.3,-.4,-.3,-.2,.2,.2],
 [-.3,-.4,-.7,-1.4,-1.3,-.8,-.8,-1.5,-1.6,-1.2,-1.1,-1.3,-.5,-.3,-1.3,.5,-.7,-1.3,-.9,-1.1,-.9,-.6,.3,-.9,-1.6,-1.2,.5,-.9,.2,.1,.2,.3,-.9,-.3,-.1],
 [-.5,-.4,-.2,-1.4,-.8,-.6,-.7,-.1,-.4,-.7,-1.1,-1.2,-1,-.7,-.8,-.3,-.2,-1.2,-.8,-.9,-.9,-1.2,-.5,-.5,-.7,-.6,-1,-.8,.1,.8,-.7,.5,.3,-.05,-.8],
 [.4,-.4,-.8,-.5,-.15,-.8,-.8,-.6,-.4,-.1,-.5,-.9,-.8,-1.1,-1.1,-.2,-.7,-1.2,-.2,-.7,-.9,-.9,-.8,-1.1,0,-.6,-1,.1,-.3,-.1,0,.03,-.8,.2,.2],
 [-.6,-.1,-.3,1.7,-.4,-.9,-.7,-1.2,-1.1,-1.2,-1.2,-1.1,-1.3,-.9,-.15,-1.4,-1.1,-.9,-.6,-.2,-.5,-.8,-.7,.05,-.9,-.7,1,-.8,-.3,.8,.8,.8,-.7,0,-.8],
 [-.9,-.5,-1.3,.3,1,-.8,-.7,-1.1,-.3,-.1,-.2,-.3,-.8,-.9,-1.2,-1.5,.3,.3,.1,.5,.3,.3,.05,2.4,.6,0,-.8,-1.1,.6,1.3,.2,1.3,-1,.1,-.5],
 [-.05,-.4,-.2,.8,.6,-.7,-.3,-.4,-.6,-.2,-.03,-.5,.3,-.6,.05,.6,-.4,-.3,-.6,.6,-.3,-.6,-.15,.5,.9,.3,1.3,-.5,.8,1,1.3,.1,-.6,.5,.9],
 [-.4,-.4,-.8,.2,.5,-.4,.1,.3,.4,.3,.4,.9,-.5,-.6,-.7,-.6,1.3,.8,.5,-.1,-.3,.5,-.1,-.1,-.1,-.7,.9,.5,.5,.8,.8,.4,.9,.5,.5],
 [-1.4,-.4,.2,-1.5,-.3,1.8,2.3,.6,1,1.3,.6,.5,.6,.3,1.7,2.8,-.6,.1,-2.5,-.8,-.4,-.05,.02,.4,1.2,.9,-2.5,.7,1.3,.8,2.6,2.3,2.8,3,2.9],
 [2.5,3,1.5,1.2,1.9,2.4,1.2,1.8,1.1,1.1,1.8,2,1.8,1.8,1.7,.7,.5,.2,.9,2,1.6,1.5,-1.7,-.3,0,-1.2,-.1,-1.1,-1.4,-2.7,-1.3,-.6,.3,-1.7,-1.2],
 [2.2,2.5,.2,1.6,-.1,-.2,.2,.9,.7,.7,.7,1.7,1.4,1,1.3,.3,.6,.8,1.7,.8,1.3,.9,.1,.3,.9,1.5,.6,2.3,-1.4,-.6,-.05,-1,-.4,-2,-1.7],
 [1.1,-.02,.9,.8,1.4,1.9,1.4,1.6,1.6,1.5,1.7,1.3,1.9,1.7,.6,1.4,1.8,1.9,1.5,1.9,.9,1.2,2.9,2.5,1.9,2,1.9,1.7,-1.4,-.9,-.9,-.6,-.2,-1.1,-1.5],
]
f_right = [
 [-.6,-1,.6,.4,-.4,1,-.4,-1.3,.1,.4,-.7,1.5,2.1,2.1,2.7,2.2,2.1,1.6,2,1.3,.4,.3,2,-.1,.2],
 [.1,1.2,1.4,-.05,-.2,-.3,-1,-.8,-.9,-.3,-.4,2.6,.05,1.2,-.1,-.3,-.8,-.02,.6,.8,-.02,.5,-1.1,-.15,.3],
 [.5,-.4,-.5,-.8,-.8,-1,-1.2,-.2,-.2,-1.1,-1.5,.2,-.3,.7,-.5,-.5,-1.2,-.6,-.5,1.2,-.02,-.1,.7,1.6,1],
 [-.2,.8,-.2,-.9,-.1,-.4,-.6,.6,-.1,.3,.6,.6,-.5,.7,-.6,.2,-.05,-.3,-.4,-.6,-.5,-1,-1.6,-.8,-.5],
 [1.1,-.3,-.7,-.6,-.6,-.6,-.7,-.03,.05,.03,.15,-.7,-.6,-.2,-.3,.1,-.8,-.3,-.6,-.7,1.8,-.9,.5,.1,.7],
 [1.2,1.6,-1.4,-1.2,-.8,-.8,.2,-.3,-.5,-.7,.6,-.3,1.2,.8,.2,-.3,.4,.3,-1.5,-.7,-.02,1.1,1.1,1.5,-.6],
 [1.6,.03,-.15,.2,-.02,.3,.1,.5,.3,.9,.3,-.3,-.1,0,-.4,.8,.7,.8,-.6,-.6,1.9,2.5,.05,.3,.8],
 [-1.4,-.02,1.2,1,2.3,1.7,1.7,1.7,.5,2,1.8,.5,.4,-.9,.6,.5,0,1.7,1.1,-.2,-.7,-.6,-.2,.5,-.1],
 [-1.9,-1.1,.7,1.9,1.6,1.1,.6,1.3,.6,.8,1.1,-.5,.9,.1,0,-.6,.8,1.4,1.2,.5,-.2,.4,.2,-1.9,-.6],
 [-.9,.3,.2,1.7,.6,.5,.8,1.2,1.4,0,.8,-.05,.3,.5,.4,0,.8,1.2,1.5,.7,-.2,-.6,-.4,-.7,-.7],
 [-1.2,-.9,1.2,.4,.3,-.1,-.4,.03,1.1,.2,.7,-.2,-.3,-.8,-.1,.8,.8,.4,.9,2,-.4,-.5,.4,.9,1.1],
 [-.7,-.9,1.7,.4,.6,.7,2,.7,1,1.1,.4,.4,-.1,-.6,.5,.3,.2,.5,-.5,.5,.4,-.6,-.5,-.3,-.02],
 [0,-1.7,.6,.9,1,1.9,1,-.4,-.6,.1,-.5,-.5,.2,-1.4,1.4,-.1,.1,-.6,.2,.05,.4,-.15,2,.05,-.2],
 [.6,.3,.6,.8,.6,.5,.5,.7,1.3,.2,.7,-.1,-.4,-.1,-.05,.3,.7,-.03,.1,.1,1.1,-.05,-.3,1.7,1.6],
 [.2,1.5,-.2,-.01,.8,.6,1,.8,1.2,.8,1.4,.2,.3,-.2,.8,1.6,.8,.1,-.1,.8,.6,1,.8,.1,1.8],
 [1.8,1.9,-1.3,-1.1,-1.3,-1.6,.2,-2.6,-1.9,-2.4,-.7,.7,1.6,1.2,-1.1,-1.7,-.3,-1.5,.5,-.7,-2.2,-.1,-.6,.8,0],
 [-.3,-.2,-.2,-.3,-.3,-.5,-.7,-1,-1,.1,-1.1,-2.6,-1.4,-1,-1.5,-1.7,-.7,-1.7,-.5,-2.2,-.2,1.7,-.6,-1.1,-2.1],
 [-.2,-.5,-1.6,-1.5,-1.6,-1.2,-1.4,-.02,-.6,-1.3,-2.1,-.7,-1.3,-.3,-.6,-.4,-1.9,-1.2,-1.8,-1.4,-1.7,-1.2,-1.1,-1.4,-1.4],
 [.05,-.4,-1.6,-1.3,-1.2,-1.5,-1.5,-.6,-1.6,-1.3,-1.3,-.6,-1.9,-1.6,-1.2,-1.3,-1.6,-1.4,-1.5,-1.2,-.6,-1.2,-1.3,-.8,-1.2],
]
f_vals = [a + b for a, b in zip(f_left, f_right)]
f_sub1 = (90, (116, (172, 0, 1), (128, 2, (148, 3, 4))),
          (100, (130, (153, (158, (176, 5, 6), (176, 7, (185, 8, (188, 9, 10)))), (157, 11, (172, 12, 13))), (148, 14, 15)),
           (112, (125, (148, (174, 16, 17), (155, 18, (162, 19, (183, 20, 21)))), (138, 22, (148, 23, (165, 24, 25)))), (116, 26, 27))))
f_sub2 = (100, (138, (157, 28, 29), (155, 30, 31)), (130, (140, 32, (175, 33, 34)), (140, 35, 36)))
f_sub3 = (90, (128, (155, 37, (172, 38, (175, 39, 40))), (138, 41, (150, (163, 42, 43), (155, 44, 45)))),
          (98, (115, (138, 46, (148, 47, 48)), (125, (148, (160, 49, 50), (155, 51, 52)), (145, 53, 54))),
           (112, (130, 55, 56), (125, 57, (152, 58, 59)))))
f_ctree = (66, f_sub1, (75, f_sub2, f_sub3))
f_rtree = (55, (80, (100, 0, (117, 1, 2)),
                (95, (105, (120, 3, 4), (110, 5, 6)),
                 (97, (100, (122, 7, (130, 8, 9)), (120, 10, 11)), (107, 12, (120, 13, 14))))),
           (62, 15, (97, 16, (115, 17, 18))))
F = (121.8, 1410.2, 1395.9, 1814.4)
heat(F, f_vals)
fw = (F[2] - F[0]) / 60; fh = (F[3] - F[1]) / 19
annot((86.7, F[1], 102, F[3]), f_stage, STAGE)
annot((104, F[1], 119, F[3]), f_state, DS_COL)
dendro(f_ctree, lambda i: F[0] + fw * (i + .5), lambda h: 1330 + h / 2.657, F[1], 'top')
dendro(f_rtree, lambda i: F[1] + fh * (i + .5), lambda h: h / 1.823, 85, 'left')
for i, t in enumerate(f_rows):
    ov.text(1399, F[1] + fh * (i + .5) + 1, t, fontsize=10, va='center', color='#222')
for i, t in enumerate(f_cols):
    ov.text(F[0] + fw * (i + .5), 1818.5, t, fontsize=10.2, rotation=270, ha='center', va='top', color='#222')
ov.text(94.5, 1818.5, 'Stage', fontsize=10, fontweight='bold', rotation=270, ha='center', va='top', color='#222')
ov.text(111.5, 1818.5, 'DiseaseState', fontsize=10, fontweight='bold', rotation=270, ha='center', va='top', color='#222')
colorbar((1448, 1411, 1458, 1570), -3.13, 3.2, 1466, 10.5)
legends(1490.8, 1417, 1511.6, 1426.7, 21.3, 1516, 10.4, 1555.7, 1565, 21.2, 1516, 11.3, 10.4)
ov.text(705, 1332, 'CD8 T cell Differential Expression (Avg Exp) Adj/Norm vs PDA', fontsize=14.4, ha='center', va='center')
ov.add_patch(FancyArrowPatch((1300, 1911.5), (1300, 1864), arrowstyle='-|>,head_width=6,head_length=12', color='k', lw=2.2, shrinkA=0, shrinkB=0))

# ---------- panel letters ----------
for t, x, y in [('A', 22, 37), ('B', 947, 25), ('C', 27, 749), ('D', 685, 749), ('E', 1215, 749), ('F', 27, 1335)]:
    ov.text(x, y, t, fontsize=29, ha='center', va='center', color='k')

fig.savefig('out.png', dpi=100, facecolor='white')
